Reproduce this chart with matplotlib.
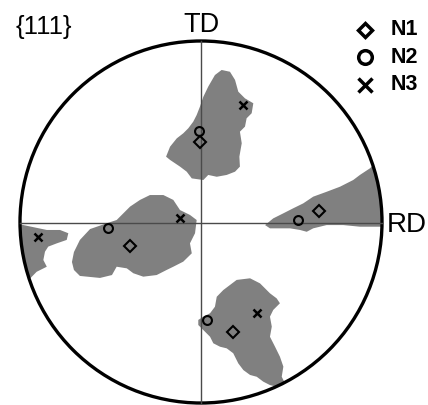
import matplotlib.pyplot as plt
from matplotlib.patches import Circle, Polygon

plt.rcParams['font.family'] = ['Liberation Sans', 'DejaVu Sans']

# projected positions (unit circle) of the three orientations, one per pole
n1_x = [-0.006, 0.652, -0.392, 0.177]
n1_y = [0.442, 0.061, -0.133, -0.608]
n2_x = [-0.011, 0.534, -0.514, 0.031]
n2_y = [0.503, 0.011, -0.033, -0.541]
n3_x = [0.232, -0.116, -0.901, 0.308]
n3_y = [0.646, 0.022, -0.083, -0.503]

legend_labels = ['N1', 'N2', 'N3']

# outlines of the measured intensity regions
blob_top = [(0.114, 0.840), (0.160, 0.830), (0.188, 0.785), (0.206, 0.720),
            (0.243, 0.683), (0.289, 0.656), (0.280, 0.601), (0.252, 0.573),
            (0.243, 0.527), (0.215, 0.499), (0.225, 0.435), (0.212, 0.361),
            (0.215, 0.306), (0.188, 0.278), (0.142, 0.260), (0.087, 0.250),
            (0.040, 0.260), (0.013, 0.232), (-0.051, 0.241), (-0.079, 0.278),
            (-0.116, 0.306), (-0.171, 0.343), (-0.193, 0.361), (-0.171, 0.416),
            (-0.134, 0.462), (-0.098, 0.490), (-0.070, 0.518), (-0.043, 0.554),
            (-0.024, 0.591), (-0.006, 0.637), (0.013, 0.692), (0.040, 0.748),
            (0.077, 0.812)]
blob_right = [(0.354, -0.017), (0.399, 0.020), (0.455, 0.048), (0.510, 0.076),
              (0.565, 0.103), (0.620, 0.140), (0.694, 0.167), (0.768, 0.195),
              (0.841, 0.232), (0.878, 0.260), (0.934, 0.297), (0.961, 0.324),
              (1.10, 0.40), (1.15, 0.30), (1.15, -0.05), (0.989, -0.026),
              (0.878, -0.026), (0.786, -0.017), (0.694, -0.017), (0.620, -0.035),
              (0.584, -0.054), (0.547, -0.044), (0.492, -0.035), (0.436, -0.035),
              (0.381, -0.035)]
blob_left = [(-0.429, 0.048), (-0.392, 0.085), (-0.337, 0.122), (-0.282, 0.149),
             (-0.208, 0.149), (-0.153, 0.122), (-0.116, 0.066), (-0.061, 0.039),
             (-0.024, 0.011), (-0.033, -0.062), (-0.061, -0.118), (-0.051, -0.173),
             (-0.098, -0.219), (-0.153, -0.247), (-0.190, -0.265), (-0.245, -0.293),
             (-0.319, -0.302), (-0.374, -0.283), (-0.410, -0.256), (-0.466, -0.247),
             (-0.492, -0.293), (-0.558, -0.309), (-0.669, -0.298), (-0.702, -0.265),
             (-0.713, -0.221), (-0.702, -0.166), (-0.669, -0.099), (-0.613, -0.039),
             (-0.558, -0.020), (-0.521, -0.007), (-0.466, 0.011)]
blob_edge = [(-1.0, -0.013), (-0.852, -0.044), (-0.779, -0.044), (-0.733, -0.062),
             (-0.742, -0.099), (-0.797, -0.118), (-0.844, -0.136), (-0.862, -0.164),
             (-0.871, -0.210), (-0.852, -0.247), (-0.908, -0.275), (-0.963, -0.331),
             (-1.2, -0.40), (-1.2, -0.01)]
blob_bottom = [(0.197, -0.320), (0.271, -0.311), (0.326, -0.339), (0.381, -0.394),
               (0.418, -0.422), (0.436, -0.449), (0.399, -0.486), (0.381, -0.523),
               (0.391, -0.578), (0.381, -0.634), (0.409, -0.689), (0.436, -0.744),
               (0.455, -0.799), (0.446, -0.855), (0.464, -0.891), (0.418, -0.910),
               (0.381, -0.901), (0.344, -0.882), (0.308, -0.855), (0.271, -0.845),
               (0.234, -0.818), (0.206, -0.781), (0.178, -0.725), (0.142, -0.698),
               (0.105, -0.689), (0.068, -0.670), (0.050, -0.634), (0.013, -0.597),
               (-0.015, -0.569), (-0.015, -0.541), (0.013, -0.523), (0.050, -0.504),
               (0.077, -0.468), (0.087, -0.413), (0.123, -0.376), (0.160, -0.348)]

fig = plt.figure(figsize=(4.28, 4.05), dpi=100)
ax = fig.add_axes([0, 0, 1, 1])
ax.set_xlim(-1.1105, 1.2541)
ax.set_ylim(-1.011, 1.2265)
ax.axis('off')

clip = Circle((0, 0), 1.0, transform=ax.transData)
for pts in [blob_top, blob_right, blob_left, blob_edge, blob_bottom]:
    p = Polygon(pts, closed=True, facecolor='#808080', edgecolor='none')
    ax.add_patch(p)
    p.set_clip_path(clip)

# reference axes
ax.plot([-1, 1], [-0.006, -0.006], color='#4a4a4a', lw=1)
ax.plot([0, 0], [-1, 1], color='#4a4a4a', lw=1)
ax.add_patch(Circle((0, 0), 1.0, fill=False, edgecolor='black', lw=2.4))

ax.plot(n1_x, n1_y, 'D', ls='none', ms=5.8, mfc='none', mec='black', mew=1.5)
ax.plot(n2_x, n2_y, 'o', ls='none', ms=6.4, mfc='none', mec='black', mew=1.5)
ax.plot(n3_x, n3_y, 'x', ls='none', ms=6.2, mec='black', mew=1.8)

ax.text(0.003, 1.088, 'TD', ha='center', va='center', fontsize=19.5)
ax.text(1.026, -0.017, 'RD', ha='left', va='center', fontsize=20)
ax.text(-1.022, 1.078, '{111}', ha='left', va='center', fontsize=18.5)

# legend drawn by hand, to the upper right
styles = [dict(marker='D', ms=7.0), dict(marker='o', ms=9.8), dict(marker='x', ms=10.5)]
for i, (lab, st) in enumerate(zip(legend_labels, styles)):
    yy = 1.061 - i * 0.152
    ax.plot([0.906], [yy], ls='none', mfc='none', mec='black', mew=2.5, **st)
    ax.text(1.047, yy, lab, ha='left', va='center', fontsize=15.5, fontweight='bold')

fig.savefig('out.png', dpi=100)
